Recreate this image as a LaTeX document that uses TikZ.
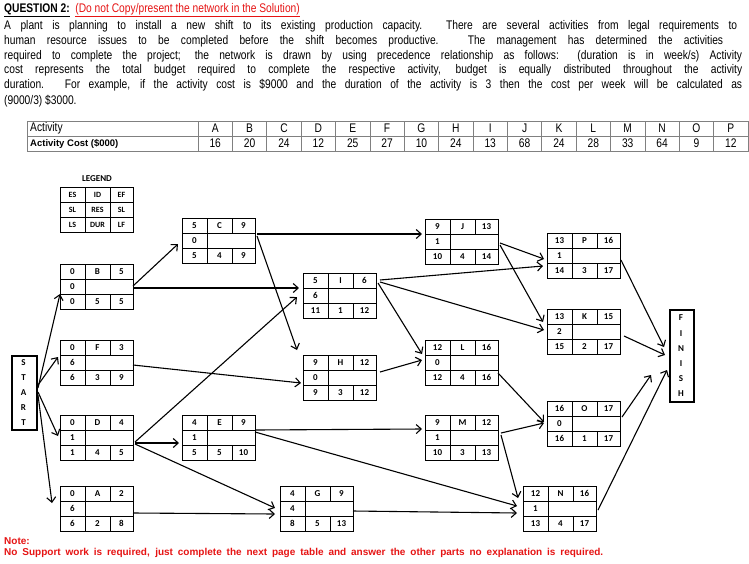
\documentclass[tikz,border=0pt]{standalone}
\usepackage{fontspec}
\setmainfont{Liberation Sans}
\newfontfamily\narrow[FakeStretch=0.82]{Liberation Sans}
\newfontfamily\calfont{Carlito}
\usetikzlibrary{arrows.meta,calc}
\definecolor{qred}{RGB}{230,20,20}
\tikzset{
  box/.style={draw,line width=1pt,minimum width=73pt,minimum height=45pt,anchor=north west,inner sep=0pt},
  cell/.style={font=\calfont\bfseries\fontsize{9}{9}\selectfont,inner sep=0pt},
  arr/.style={line width=1.1pt,-{Straight Barb[length=5pt,width=9pt]}},
  txt/.style={anchor=west,inner sep=0pt,font=\narrow\fontsize{12.5}{13}\selectfont},
  tab/.style={draw=gray,line width=0.6pt}
}
\newcommand\rp[2]{($(#1.north west)+(#2)$)}
\newcommand\actbox[9]{%
  \node[box] (#1) at (#2) {};
  \draw[line width=1pt] \rp{#1}{0,15} -- \rp{#1}{73,15} \rp{#1}{0,30} -- \rp{#1}{73,30}
    \rp{#1}{25,0} -- \rp{#1}{25,45} \rp{#1}{50,0} -- \rp{#1}{50,15} \rp{#1}{50,30} -- \rp{#1}{50,45};
  \node[cell] at \rp{#1}{12.5,7.5} {#3};
  \node[cell] at \rp{#1}{37.5,7.5} {#4};
  \node[cell] at \rp{#1}{61.5,7.5} {#5};
  \node[cell] at \rp{#1}{12.5,22.5} {#6};
  \node[cell] at \rp{#1}{12.5,37.5} {#7};
  \node[cell] at \rp{#1}{37.5,37.5} {#8};
  \node[cell] at \rp{#1}{61.5,37.5} {#9};
}
\begin{document}
\begin{tikzpicture}[x=1pt,y=-1pt]
\useasboundingbox[fill=white] (0,0) rectangle (749,563);
% header text
\node[txt] (t0) at (4,10) {\bfseries\underline{QUESTION 2:}\ \ \textcolor{qred}{\mdseries\underline{(Do not Copy/present the network in the Solution)}}};
\node[txt] (t1) at (4,26) {\makebox[733pt][s]{A plant is planning to install a new shift to its existing production capacity. There are several activities from legal requirements to}};
\node[txt] (t2) at (4,41) {\makebox[719pt][s]{human resource issues to be completed before the shift becomes productive. The management has determined the activities}};
\node[txt] (t3) at (4,56) {\makebox[738pt][s]{required to complete the project; the network is drawn by using precedence relationship as follows: (duration is in week/s) Activity}};
\node[txt] (t4) at (4,70) {\makebox[738pt][s]{cost represents the total budget required to complete the respective activity, budget is equally distributed throughout the activity}};
\node[txt] (t5) at (4,85) {\makebox[738pt][s]{duration. For example, if the activity cost is \$9000 and the duration of the activity is 3 then the cost per week will be calculated as}};
\node[txt] (t6) at (4,101) {(9000/3) \$3000.};
% table
\draw[tab] (27,121) rectangle (748,151) (27,136) -- (748,136) (198,121) -- (198,151);
\foreach \l/\c [count=\i from 0] in {A/16,B/20,C/24,D/12,E/25,F/27,G/10,H/24,I/13,J/68,K/24,L/28,M/33,N/64,O/9,P/12}{
  \draw[tab] ({198+34.375*(\i+1)},121) -- ({198+34.375*(\i+1)},151);
  \node[inner sep=0pt,font=\narrow\fontsize{12.5}{13}\selectfont] (h\i) at ({215.2+34.375*\i},128.5) {\l};
  \node[inner sep=0pt,font=\narrow\fontsize{12.5}{13}\selectfont] (v\i) at ({215.2+34.375*\i},143.5) {\c};
}
\node[txt] (ta) at (30,128.5) {Activity};
\node[anchor=west,inner sep=0pt,font=\bfseries\fontsize{9.5}{10}\selectfont] (tb) at (30,143.5) {Activity Cost (\$000)};
% legend
\node[cell] (lt) at (97,179) {LEGEND};
\node[box] (leg) at (60,187) {};
\draw[line width=1pt] \rp{leg}{0,15} -- \rp{leg}{73,15} \rp{leg}{0,30} -- \rp{leg}{73,30}
  \rp{leg}{25,0} -- \rp{leg}{25,45} \rp{leg}{50,0} -- \rp{leg}{50,45};
\foreach \a/\b/\c [count=\r from 0] in {ES/ID/EF,SL/RES/SL,LS/DUR/LF}{
  \node[cell,font=\calfont\bfseries\fontsize{8}{8}\selectfont] at \rp{leg}{12.5,7.5+15*\r} {\a};
  \node[cell,font=\calfont\bfseries\fontsize{8}{8}\selectfont] at \rp{leg}{37.5,7.5+15*\r} {\b};
  \node[cell,font=\calfont\bfseries\fontsize{8}{8}\selectfont] at \rp{leg}{61.5,7.5+15*\r} {\c};
}
% activity boxes
\actbox{C}{182,218}{5}{C}{9}{0}{5}{4}{9}
\actbox{B}{60,264}{0}{B}{5}{0}{0}{5}{5}
\actbox{I}{303,273}{5}{I}{6}{6}{11}{1}{12}
\actbox{F}{60,340}{0}{F}{3}{6}{6}{3}{9}
\actbox{H}{303,355}{9}{H}{12}{0}{9}{3}{12}
\actbox{D}{60,415}{0}{D}{4}{1}{1}{4}{5}
\actbox{E}{182,415}{4}{E}{9}{1}{5}{5}{10}
\actbox{A}{60,486}{0}{A}{2}{6}{6}{2}{8}
\actbox{G}{280,486}{4}{G}{9}{4}{8}{5}{13}
\actbox{J}{425,219}{9}{J}{13}{1}{10}{4}{14}
\actbox{P}{547,233}{13}{P}{16}{1}{14}{3}{17}
\actbox{K}{547,309}{13}{K}{15}{2}{15}{2}{17}
\actbox{L}{425,340}{12}{L}{16}{0}{12}{4}{16}
\actbox{O}{547,401}{16}{O}{17}{0}{16}{1}{17}
\actbox{M}{425,415}{9}{M}{12}{1}{10}{3}{13}
\actbox{N}{523,486}{12}{N}{16}{1}{13}{4}{17}
% start / finish
\node[draw,line width=2pt,minimum width=25pt,minimum height=74pt,anchor=north west,inner sep=0pt] (S) at (11,355) {};
\foreach \ch [count=\k from 0] in {S,T,A,R,T}
  \node[cell] at \rp{S}{12.5,8+14.8*\k} {\ch};
\node[draw,line width=2pt,minimum width=24pt,minimum height=92pt,anchor=north west,inner sep=0pt] (FIN) at (669,309) {};
\foreach \ch [count=\k from 0] in {F,I,N,I,S,H}
  \node[cell] at \rp{FIN}{12,9+15.2*\k} {\ch};
% connectors
\draw[arr] \rp{S}{27,33} -- \rp{B}{0,30};
\draw[arr] \rp{S}{27,30} -- \rp{F}{-2,17};
\draw[arr] \rp{S}{27,37} -- \rp{D}{-2,21};
\draw[arr] \rp{S}{27,40} -- \rp{A}{-8,17};
\draw[arr] \rp{B}{73,22} -- \rp{C}{-4,26};
\draw[arr] \rp{B}{73,24} -- \rp{I}{-4,15};
\draw[arr] \rp{C}{75,16} -- \rp{J}{-3,15};
\draw[arr] \rp{C}{75,18} -- \rp{H}{-6,-5};
\draw[arr] \rp{F}{73,25} -- \rp{H}{-2,28};
\draw[arr] \rp{D}{75,27} -- \rp{I}{-6,24};
\draw[arr] \rp{D}{75,28} -- \rp{E}{-3,28};
\draw[arr] \rp{D}{75,29} -- \rp{G}{-5,22};
\draw[arr] \rp{A}{73,27} -- \rp{G}{-5,28};
\draw[arr] \rp{E}{73,15} -- \rp{M}{-3,14};
\draw[arr] \rp{E}{73,17} -- \rp{N}{-6,20};
\draw[arr] \rp{G}{73,25} -- \rp{N}{-6,27};
\draw[arr] \rp{I}{77,7} -- \rp{P}{-4,33};
\draw[arr] \rp{I}{77,9} -- \rp{K}{-3,21};
\draw[arr] \rp{I}{75,10} -- \rp{L}{-3,14};
\draw[arr] \rp{H}{77,17} -- \rp{L}{-3,20};
\draw[arr] \rp{J}{75,24} -- \rp{P}{-3,26};
\draw[arr] \rp{J}{75,26} -- \rp{K}{-4,13};
\draw[arr] \rp{L}{73,33} -- \rp{O}{-3,21};
\draw[arr] \rp{M}{76,18} -- \rp{O}{-3,22};
\draw[arr] \rp{M}{76,20} -- \rp{N}{-5,12};
\draw[arr] \rp{P}{74,27} -- \rp{FIN}{-5,38};
\draw[arr] \rp{K}{77,27} -- \rp{FIN}{-4,46};
\draw[arr] \rp{O}{75,16} -- \rp{FIN}{-18,66};
\draw[arr] \rp{N}{75,24} -- \rp{FIN}{-2,61};
% note
\node[anchor=west,inner sep=0pt,text=qred,font=\bfseries\fontsize{10}{11}\selectfont] (n1) at (4,541) {Note:};
\node[anchor=west,inner sep=0pt,text=qred,font=\bfseries\fontsize{10}{11}\selectfont] (n2) at (4,553) {\makebox[599pt][s]{No Support work is required, just complete the next page table and answer the other parts no explanation is required.}};
\end{tikzpicture}
\end{document}
